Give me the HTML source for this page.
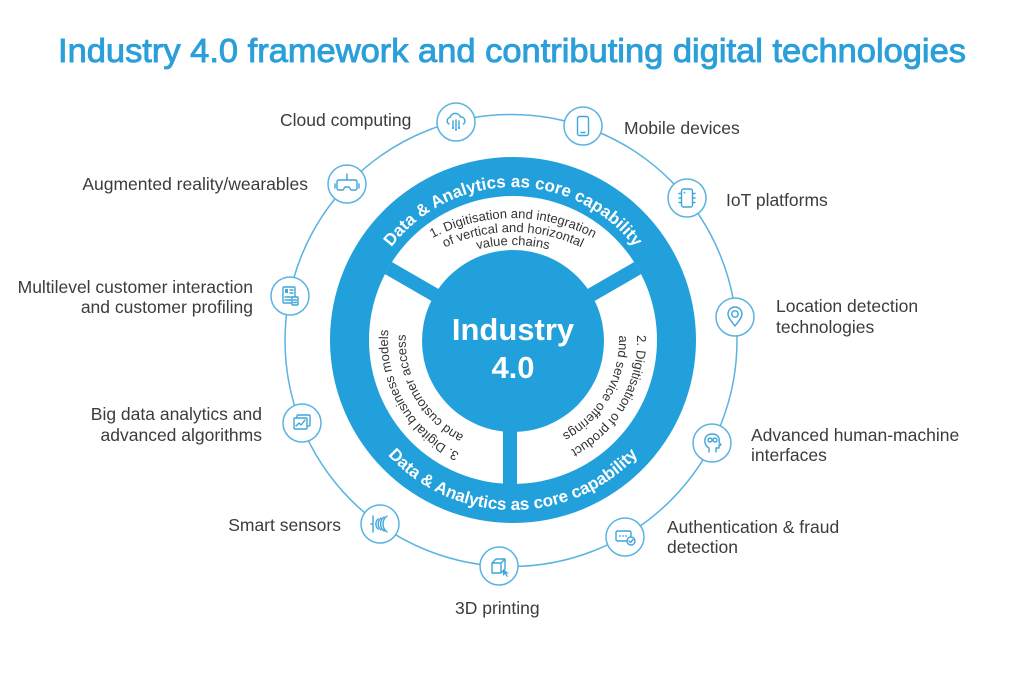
<!DOCTYPE html>
<html>
<head>
<meta charset="utf-8">
<style>
  html,body{margin:0;padding:0;background:#ffffff;}
  body{width:1024px;height:684px;overflow:hidden;}
  svg{display:block;}
  .lbl{font-family:"Liberation Sans",Arial,sans-serif;font-size:17.5px;fill:#3c3c3c;}
  .seg{font-family:"Liberation Sans",Arial,sans-serif;font-size:13px;fill:#333333;}
  .band{font-family:"Liberation Sans",Arial,sans-serif;font-size:17px;font-weight:bold;fill:#ffffff;}
  .ic circle.o{fill:#ffffff;stroke:#5ab3e1;stroke-width:1.5;}
  .ic .g{fill:none;stroke:#3fa5dc;stroke-width:1.4;stroke-linecap:round;stroke-linejoin:round;}
  .ic .f{fill:#3fa5dc;stroke:none;}
  .ic .w{fill:#ffffff;stroke:#3fa5dc;stroke-width:1.4;stroke-linejoin:round;}
</style>
</head>
<body>
<svg width="1024" height="684" viewBox="0 0 1024 684" xmlns="http://www.w3.org/2000/svg">
  <defs>
    <path id="tA" d="M 360 340 A 153 153 0 0 1 666 340"/>
    <path id="bA" d="M 343 340 A 170 170 0 0 0 683 340"/>
    <path id="t1" d="M 341 390 A 172 172 0 0 1 685 390"/>
    <path id="t2" d="M 355 390 A 158 158 0 0 1 671 390"/>
    <path id="t3" d="M 368 390 A 145 145 0 0 1 658 390"/>
    <path id="r1" d="M 584.1 238.4 A 124 124 0 0 1 460.6 452.4"/>
    <path id="r2" d="M 573.8 253.2 A 106 106 0 0 1 468.2 436.1"/>
    <path id="l1" d="M 565.8 453.3 A 125 125 0 0 1 441.3 237.6"/>
    <path id="l2" d="M 558.2 437 A 107 107 0 0 1 451.6 252.3"/>
  </defs>

  <!-- Title -->
  <text x="58" y="62" font-family="Liberation Sans, Arial, sans-serif" font-size="33" fill="#2a9fd9" stroke="#2a9fd9" stroke-width="0.9" textLength="908" lengthAdjust="spacingAndGlyphs">Industry 4.0 framework and contributing digital technologies</text>

  <!-- Outer thin ring -->
  <circle cx="511" cy="340.5" r="226" fill="none" stroke="#5ab3e1" stroke-width="1.5"/>

  <!-- Blue disk -->
  <circle cx="513" cy="340" r="183" fill="#21a0db"/>
  <circle cx="513" cy="340" r="144" fill="#ffffff"/>
  <!-- spokes -->
  <line x1="513" y1="340" x2="388.3" y2="268" stroke="#21a0db" stroke-width="14"/>
  <line x1="513" y1="340" x2="637.7" y2="268" stroke="#21a0db" stroke-width="14"/>
  <rect x="503" y="340" width="14" height="150" fill="#21a0db"/>
  <!-- inner circle -->
  <circle cx="513" cy="341" r="91" fill="#21a0db"/>

  <!-- Band texts -->
  <text class="band"><textPath href="#tA" startOffset="50%" text-anchor="middle">Data &amp; Analytics as core capability</textPath></text>
  <text class="band"><textPath href="#bA" startOffset="50%" text-anchor="middle">Data &amp; Analytics as core capability</textPath></text>

  <!-- Segment texts -->
  <text class="seg"><textPath href="#t1" startOffset="50%" text-anchor="middle">1. Digitisation and integration</textPath></text>
  <text class="seg"><textPath href="#t2" startOffset="50%" text-anchor="middle">of vertical and horizontal</textPath></text>
  <text class="seg"><textPath href="#t3" startOffset="50%" text-anchor="middle">value chains</textPath></text>

  <text class="seg"><textPath href="#r1" startOffset="50%" text-anchor="middle">2. Digitisation of product</textPath></text>
  <text class="seg"><textPath href="#r2" startOffset="50%" text-anchor="middle">and service offerings</textPath></text>

  <text class="seg"><textPath href="#l1" startOffset="50%" text-anchor="middle">3. Digital business models</textPath></text>
  <text class="seg"><textPath href="#l2" startOffset="50%" text-anchor="middle">and customer access</textPath></text>

  <!-- Center text -->
  <text x="513" y="340" text-anchor="middle" font-family="Liberation Sans, Arial, sans-serif" font-weight="bold" font-size="31" fill="#ffffff">Industry</text>
  <text x="513" y="378" text-anchor="middle" font-family="Liberation Sans, Arial, sans-serif" font-weight="bold" font-size="31" fill="#ffffff">4.0</text>

  <!-- Icons -->
  <g class="ic" transform="translate(456,122)">
    <circle class="o" r="19"/>
    <path class="g" d="M-7 2 A3.5 3.5 0 0 1 -6 -4.5 A5.5 5.5 0 0 1 4.5 -5 A4 4 0 0 1 7.5 2"/>
    <path class="g" d="M-3 -1 V5 M0 -2 V6.5 M3 -1 V5"/>
    <circle class="f" cx="-3" cy="6" r="1.1"/>
    <circle class="f" cx="0" cy="7.8" r="1.1"/>
    <circle class="f" cx="3" cy="6" r="1.1"/>
  </g>
  <g class="ic" transform="translate(583,126)">
    <circle class="o" r="19"/>
    <rect class="g" x="-5.5" y="-9.5" width="11" height="19" rx="2"/>
    <path class="g" d="M-2 6.5 H2"/>
  </g>
  <g class="ic" transform="translate(687,198)">
    <circle class="o" r="19"/>
    <rect class="g" x="-5.5" y="-9" width="11" height="18" rx="2"/>
    <path class="g" d="M-8 -4.5 H-5.5 M-8 0 H-5.5 M-8 4.5 H-5.5 M5.5 -4.5 H8 M5.5 0 H8 M5.5 4.5 H8"/>
    <circle class="f" cx="-2.5" cy="-5.5" r="0.9"/>
  </g>
  <g class="ic" transform="translate(735,317)">
    <circle class="o" r="19"/>
    <path class="g" d="M0 9 C-3 5 -7 1 -7 -3 A7 7 0 0 1 7 -3 C7 1 3 5 0 9 Z"/>
    <circle class="g" cx="0" cy="-3" r="3.2"/>
  </g>
  <g class="ic" transform="translate(712,443)">
    <circle class="o" r="19"/>
    <path class="g" d="M-3 9 V5 C-9 2 -9 -9 0 -9 C6 -9 8 -5 7 -1 L9 2 H7 V5 H4 V9"/>
    <circle class="g" cx="-2" cy="-3" r="2"/>
    <circle class="g" cx="3" cy="-3" r="2"/>
  </g>
  <g class="ic" transform="translate(625,537)">
    <circle class="o" r="19"/>
    <rect class="g" x="-9" y="-6" width="15" height="10" rx="1.5"/>
    <circle class="f" cx="-5" cy="-1" r="0.9"/>
    <circle class="f" cx="-2" cy="-1" r="0.9"/>
    <circle class="f" cx="1" cy="-1" r="0.9"/>
    <circle class="w" cx="6" cy="4" r="4"/>
    <path class="g" d="M4 4 L5.5 5.5 L8 2.5"/>
  </g>
  <g class="ic" transform="translate(499,566)">
    <circle class="o" r="19"/>
    <path class="g" d="M-7 -3 L-3 -7 H6 V3 L2 7 H-7 Z M-7 -3 H2 V7 M2 -3 L6 -7"/>
    <path class="f" d="M4 3 L4 10 L6 8 L8 11 L9 10.5 L7.3 7.5 L10 7.5 Z"/>
  </g>
  <g class="ic" transform="translate(380,524)">
    <circle class="o" r="19"/>
    <path class="g" d="M-7 -8 V8 M-9 0 H-7"/>
    <path class="g" d="M-2 -5 A7 7 0 0 0 -2 5 M1 -6 A8 8 0 0 0 1 6 M4 -7 A9 9 0 0 0 4 7 M7 -8 A10 10 0 0 0 7 8"/>
  </g>
  <g class="ic" transform="translate(302,423)">
    <circle class="o" r="19"/>
    <rect class="g" x="-5" y="-8" width="13" height="11" rx="1"/>
    <rect class="w" x="-8" y="-5" width="13" height="11" rx="1"/>
    <path class="g" d="M-6 3 L-3 0 L-1 2 L3 -3"/>
  </g>
  <g class="ic" transform="translate(290,296)">
    <circle class="o" r="19"/>
    <rect class="g" x="-7" y="-9" width="12" height="16" rx="1"/>
    <rect class="f" x="-5" y="-7" width="3" height="4"/>
    <path class="g" d="M0 -6 H3 M0 -3 H3 M-5 1 H3 M-5 4 H1"/>
    <rect class="w" x="2" y="1" width="6" height="8" rx="0.8"/>
    <path class="g" d="M3.5 4 H6.5 M3.5 6.5 H6.5"/>
  </g>
  <g class="ic" transform="translate(347,184)">
    <circle class="o" r="19"/>
    <path class="g" d="M-10 -2 Q-10 -4 -8 -4 H8 Q10 -4 10 -2 V4 Q10 6 8 6 H4 L2 3 H-2 L-4 6 H-8 Q-10 6 -10 4 Z"/>
    <path class="g" d="M0 -4 V-10 M-12 0 V4 M12 0 V4"/>
  </g>

  <!-- Labels -->
  <text class="lbl" x="280" y="126">Cloud computing</text>
  <text class="lbl" x="624" y="134">Mobile devices</text>
  <text class="lbl" x="726" y="206">IoT platforms</text>
  <text class="lbl" x="776" y="312">Location detection</text>
  <text class="lbl" x="776" y="333">technologies</text>
  <text class="lbl" x="751" y="441">Advanced human-machine</text>
  <text class="lbl" x="751" y="461">interfaces</text>
  <text class="lbl" x="667" y="533">Authentication &amp; fraud</text>
  <text class="lbl" x="667" y="553">detection</text>
  <text class="lbl" x="455" y="614">3D printing</text>
  <text class="lbl" x="341" y="531" text-anchor="end">Smart sensors</text>
  <text class="lbl" x="262" y="420" text-anchor="end">Big data analytics and</text>
  <text class="lbl" x="262" y="441" text-anchor="end">advanced algorithms</text>
  <text class="lbl" x="253" y="293" text-anchor="end">Multilevel customer interaction</text>
  <text class="lbl" x="253" y="313" text-anchor="end">and customer profiling</text>
  <text class="lbl" x="308" y="190" text-anchor="end">Augmented reality/wearables</text>
</svg>
</body>
</html>
